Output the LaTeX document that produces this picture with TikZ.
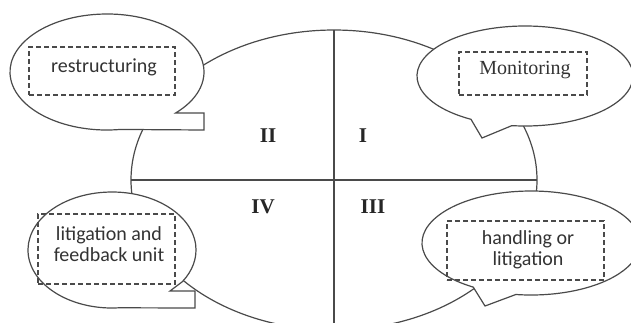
\documentclass[tikz,border=0pt]{standalone}
\usepackage{fontspec}
\setmainfont{Liberation Serif}
\newfontfamily\calib{Carlito}
\usetikzlibrary{calc}
\definecolor{inkgray}{HTML}{4A4A4A}
\definecolor{txtgray}{HTML}{333333}
\tikzset{
  outline/.style={draw=inkgray, line width=1.2pt},
  bubble/.style={outline, fill=white, line join=miter},
  dashbox/.style={draw=inkgray, line width=1.4pt, dash pattern=on 5pt off 3pt, inner sep=0pt},
  label/.style={font=\calib\fontsize{20}{21}\selectfont, text=txtgray, align=center},
  serlabel/.style={font=\fontsize{20}{21}\selectfont, text=txtgray},
  quad/.style={font=\bfseries\fontsize{21}{23}\selectfont, text=black!85}
}
\begin{document}
\begin{tikzpicture}[x=1pt, y=-1pt]
\useasboundingbox (0,0) rectangle (631,322);
\clip (0,0) rectangle (631,322);

% central ellipse split into four quadrants
\draw[outline] (334,180) ellipse [x radius=203, y radius=150];
\coordinate (top) at (334,30);
\coordinate (bot) at (334,335);
\coordinate (lft) at (131,180);
\coordinate (rgt) at (537,180);
\draw[outline] (top) -- (bot);
\draw[outline] (lft) -- (rgt);

\node[quad] (q2) at (268,136) {II};
\node[quad] (q1) at (363,136) {I};
\node[quad] (q4) at (263,207) {IV};
\node[quad] (q3) at (373,207) {III};

% upper left speech bubble with square notch
\draw[bubble] ($(107,72)+(45:97 and 58)$) -- (204,113) -- (204,130)
  -- ($(107,72)+(82:97 and 58)$) arc[start angle=82, end angle=405, x radius=97, y radius=58] -- cycle;
\node[dashbox, minimum width=146pt, minimum height=48pt] (b1) at (102,71) {};
\node[label] (t1) at (104,67) {restructuring};

% upper right speech bubble with pointed tail
\draw[bubble] (482,138) -- ($(525,76)+(120:108 and 50)$)
  arc[start angle=120, end angle=457, x radius=108, y radius=50] -- cycle;
\node[dashbox, minimum width=128pt, minimum height=43pt] (b2) at (523,73.5) {};
\node[serlabel] (t2) at (525,70) {Monitoring};

% lower left speech bubble with square notch
\draw[bubble] ($(112,250)+(33:84 and 58)$) -- (170,291) -- (195,291) -- (195,308)
  -- ($(112,250)+(85:84 and 58)$) arc[start angle=85, end angle=393, x radius=84, y radius=58] -- cycle;
\node[dashbox, minimum width=137pt, minimum height=70pt] (b3) at (106.5,249) {};
\node[label] (t3) at (109,244) {litigation and\\feedback unit};

% lower right speech bubble with pointed tail
\draw[bubble] (485,306) -- ($(531,243)+(122:109 and 52)$)
  arc[start angle=122, end angle=458, x radius=109, y radius=52] -- cycle;
\node[dashbox, minimum width=157pt, minimum height=59pt] (b4) at (525.5,250.5) {};
\node[label] (t4) at (528,250) {handling or\\litigation};
\end{tikzpicture}
\end{document}
